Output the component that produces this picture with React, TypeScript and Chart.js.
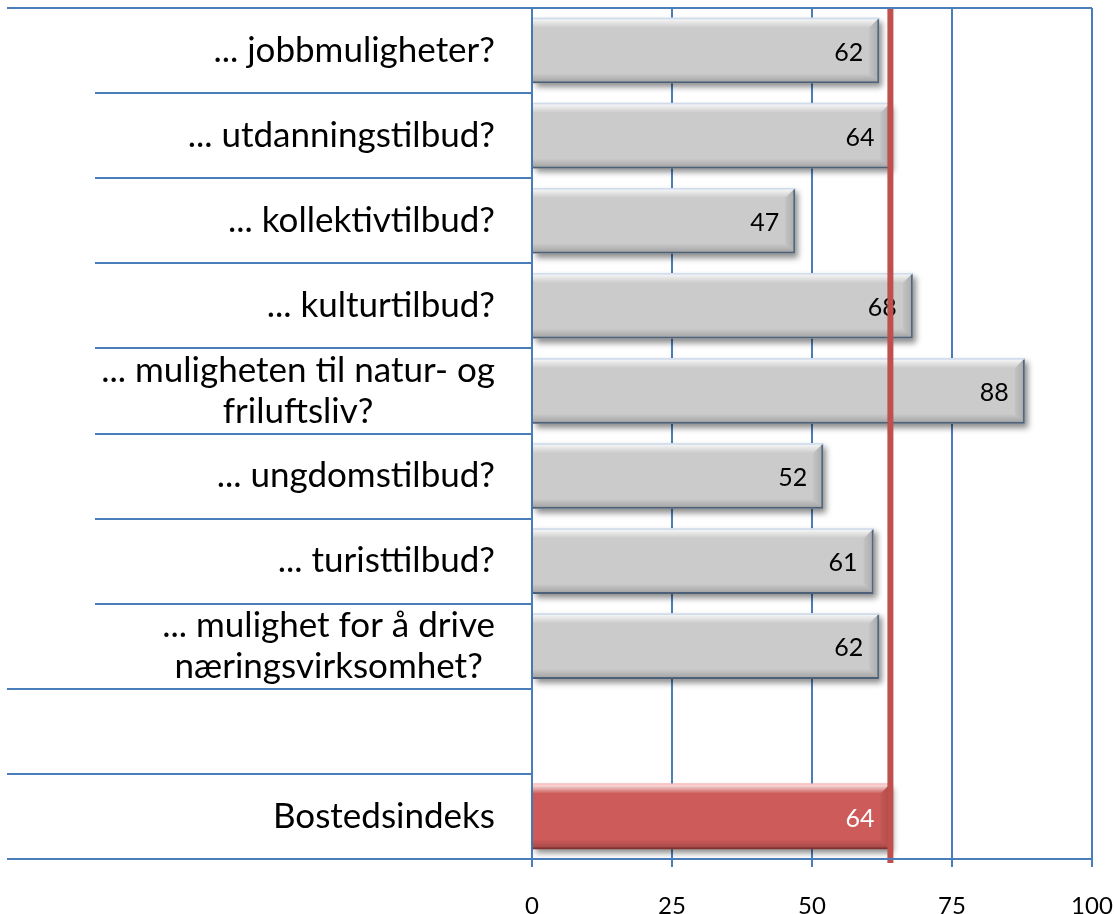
import React, { useEffect, useRef } from "react";
import { Chart, registerables } from "chart.js";

Chart.register(...registerables);

// ---- data ----
const categories: string[][] = [
  ["... jobbmuligheter?"],
  ["... utdanningstilbud?"],
  ["... kollektivtilbud?"],
  ["... kulturtilbud?"],
  ["... muligheten til natur- og", "friluftsliv?"],
  ["... ungdomstilbud?"],
  ["... turisttilbud?"],
  ["... mulighet for å drive", "næringsvirksomhet?"],
  [""],
  ["Bostedsindeks"],
];
const values: (number | null)[] = [62, 64, 47, 68, 88, 52, 61, 62, null, 64];
const indexLabel = "Bostedsindeks";
const indexValue = 64;
const xTickValues = [0, 25, 50, 75, 100];

// ---- styles ----
const FONT = "Lato, 'Open Sans', sans-serif";
const GRID = "#4a7ebb";
const GRAY = "#cbcbcb";
const RED = "#cd5b59";
const LINE_RED = "#c0504d";
const BORDER_GRAY = "#5f7896";
const BORDER_RED = "#9c3f3d";
const CAT_FONT_SIZE = 35;
const CAT_LINE_HEIGHT = 41;
const LABEL_RIGHT = 495;
const VALUE_FONT_SIZE = 25;

export default function App() {
  const ref = useRef<HTMLCanvasElement>(null);

  useEffect(() => {
    const canvas = ref.current;
    if (!canvas) return;

    const isIndex = (i: number) => categories[i][0] === indexLabel;

    const decor = {
      id: "decor",
      beforeDatasetsDraw(chart: any) {
        const ctx = chart.ctx;
        const meta = chart.getDatasetMeta(0);
        meta.data.forEach((el: any, i: number) => {
          if (values[i] == null) return;
          const left = el.base;
          const right = el.x;
          const top = el.y - el.height / 2;
          ctx.save();
          ctx.shadowColor = "rgba(0,0,0,0.45)";
          ctx.shadowBlur = 6;
          ctx.shadowOffsetX = 3;
          ctx.shadowOffsetY = 4;
          ctx.fillStyle = isIndex(i) ? RED : GRAY;
          ctx.fillRect(left, top, right - left, el.height);
          ctx.restore();
        });
      },
      afterDatasetsDraw(chart: any) {
        const ctx = chart.ctx;
        const meta = chart.getDatasetMeta(0);
        const xs = chart.scales.x;
        meta.data.forEach((el: any, i: number) => {
          const v = values[i];
          if (v == null) return;
          const left = el.base;
          const right = el.x;
          const top = el.y - el.height / 2;
          const bottom = el.y + el.height / 2;
          const b = 10;
          ctx.save();
          let g = ctx.createLinearGradient(0, top, 0, top + b);
          g.addColorStop(0, "rgba(255,255,255,0.95)");
          g.addColorStop(1, "rgba(255,255,255,0)");
          ctx.fillStyle = g;
          ctx.beginPath();
          ctx.moveTo(left, top);
          ctx.lineTo(right, top);
          ctx.lineTo(right - b, top + b);
          ctx.lineTo(left, top + b);
          ctx.closePath();
          ctx.fill();
          g = ctx.createLinearGradient(0, bottom - b, 0, bottom);
          g.addColorStop(0, "rgba(0,0,0,0)");
          g.addColorStop(1, "rgba(0,0,0,0.22)");
          ctx.fillStyle = g;
          ctx.beginPath();
          ctx.moveTo(left, bottom - b);
          ctx.lineTo(right - b, bottom - b);
          ctx.lineTo(right, bottom);
          ctx.lineTo(left, bottom);
          ctx.closePath();
          ctx.fill();
          g = ctx.createLinearGradient(right - b, 0, right, 0);
          g.addColorStop(0, "rgba(0,0,0,0.04)");
          g.addColorStop(1, "rgba(0,0,0,0.16)");
          ctx.fillStyle = g;
          ctx.beginPath();
          ctx.moveTo(right - b, top + b);
          ctx.lineTo(right, top);
          ctx.lineTo(right, bottom);
          ctx.lineTo(right - b, bottom - b);
          ctx.closePath();
          ctx.fill();
          ctx.fillStyle = isIndex(i) ? "rgba(255,190,190,0.9)" : "rgba(200,215,235,0.9)";
          ctx.fillRect(left, top, right - left, 1.5);
          ctx.fillStyle = isIndex(i) ? "#ffffff" : "#000000";
          ctx.font = `${VALUE_FONT_SIZE}px ${FONT}`;
          ctx.textAlign = "right";
          ctx.textBaseline = "middle";
          ctx.fillText(String(v), right - 16, el.y + 2);
          ctx.restore();
        });
        const lx = xs.getPixelForValue(indexValue);
        ctx.save();
        ctx.fillStyle = LINE_RED;
        ctx.fillRect(lx - 3, chart.chartArea.top, 6, chart.chartArea.bottom - chart.chartArea.top + 4);
        ctx.restore();
      },
      afterDraw(chart: any) {
        const ctx = chart.ctx;
        const ys = chart.scales.y;
        const area = chart.chartArea;
        const n = categories.length;
        const step = (area.bottom - area.top) / n;
        ctx.save();
        ctx.strokeStyle = GRID;
        ctx.lineWidth = 2;
        for (let k = 0; k <= n; k++) {
          const y = Math.round(area.top + k * step);
          const startX = k === 0 || k >= n - 2 ? 7 : 95;
          const endX = k === 0 || k === n ? area.right : area.left;
          ctx.beginPath();
          ctx.moveTo(startX, y);
          ctx.lineTo(endX, y);
          ctx.stroke();
        }
        ctx.fillStyle = "#000000";
        ctx.font = `${CAT_FONT_SIZE}px ${FONT}`;
        ctx.textBaseline = "middle";
        ctx.textAlign = "center";
        categories.forEach((lines, i) => {
          const cy = ys.getPixelForTick(i);
          const maxW = Math.max(...lines.map((l) => ctx.measureText(l).width));
          const cx = LABEL_RIGHT - maxW / 2;
          const y0 = cy - ((lines.length - 1) * CAT_LINE_HEIGHT) / 2;
          lines.forEach((l, j) => ctx.fillText(l, cx, y0 + j * CAT_LINE_HEIGHT));
        });
        ctx.restore();
      },
    };

    const chart = new Chart(canvas, {
      type: "bar",
      data: {
        labels: categories,
        datasets: [
          {
            data: values as any,
            backgroundColor: categories.map((c) => (c[0] === indexLabel ? RED : GRAY)),
            borderColor: categories.map((c) => (c[0] === indexLabel ? BORDER_RED : BORDER_GRAY)),
            borderWidth: { top: 0, right: 2, bottom: 2, left: 0 } as any,
            borderSkipped: false,
            barPercentage: 0.77,
            categoryPercentage: 1,
          },
        ],
      },
      options: {
        indexAxis: "y",
        responsive: false,
        animation: false,
        layout: { padding: { top: 8, right: 22, left: 0, bottom: 0 } },
        plugins: { legend: { display: false }, tooltip: { enabled: false } },
        scales: {
          x: {
            type: "linear",
            position: "bottom",
            min: 0,
            max: 100,
            afterBuildTicks: (s: any) => {
              s.ticks = xTickValues.map((v) => ({ value: v }));
            },
            afterFit: (s: any) => {
              s.height = 55;
              s.paddingLeft = 0;
              s.paddingRight = 0;
            },
            ticks: {
              color: "#000000",
              font: { family: FONT, size: 24 },
              padding: 25,
              maxRotation: 0,
            },
            grid: { color: GRID, lineWidth: 2, tickLength: 8, tickColor: GRID, drawTicks: true },
            border: { display: false },
          },
          y: {
            type: "category",
            offset: true,
            afterFit: (s: any) => {
              s.width = 532;
              s.paddingTop = 0;
              s.paddingBottom = 0;
            },
            ticks: { display: false },
            grid: { display: false },
            border: { display: false },
          },
        },
      },
      plugins: [decor],
    });

    return () => chart.destroy();
  }, []);

  return (
    <div style={{ position: "absolute", left: 0, top: 0, width: 1114, height: 914, background: "#ffffff" }}>
      <canvas ref={ref} width={1114} height={914} style={{ display: "block" }} />
    </div>
  );
}
